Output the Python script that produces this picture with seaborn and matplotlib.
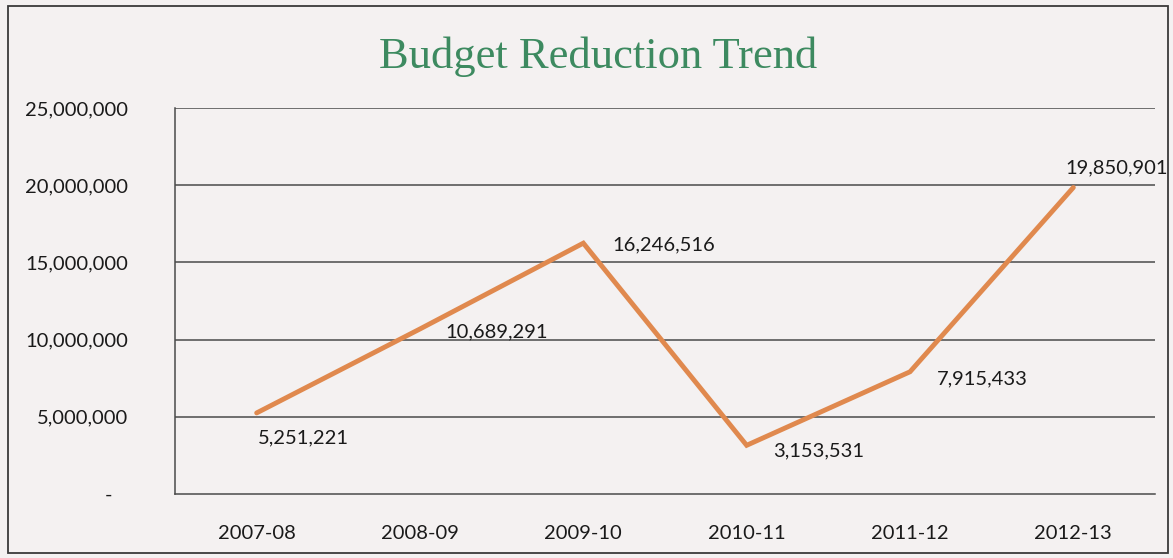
import matplotlib
matplotlib.use("Agg")
import matplotlib.pyplot as plt
import matplotlib.patches as mpatches
import seaborn as sns
import pandas as pd
from matplotlib.ticker import FuncFormatter

# Annual budget reductions by fiscal year
years = ["2007-08", "2008-09", "2009-10", "2010-11", "2011-12", "2012-13"]
reductions = [5251221, 10689291, 16246516, 3153531, 7915433, 19850901]
y_ticks = [0, 5000000, 10000000, 15000000, 20000000, 25000000]

# Label placement (pixel offsets from each point)
label_offsets = [(1, -25), (25, -3), (29, -2), (26, -6), (27, -7), (43, 20)]

df = pd.DataFrame({"year": years, "reduction": reductions})

sns.set_theme(style="white")
plt.rcParams["font.family"] = ["Lato", "DejaVu Sans"]

bg = "#f4f1f1"
fig = plt.figure(figsize=(11.73, 5.58), dpi=100, facecolor=bg)
ax = fig.add_axes([175 / 1173, 1 - 494 / 558, (1155 - 175) / 1173, (494 - 108) / 558])
ax.set_facecolor(bg)

df["pos"] = range(len(years))
sns.lineplot(data=df, x="pos", y="reduction", ax=ax, color="#e0894e",
             linewidth=3.5, solid_joinstyle="miter", sort=False)

ax.set_xlim(-0.5, len(years) - 0.5)
ax.set_ylim(y_ticks[0], y_ticks[-1])
ax.set_xticks(range(len(years)))
ax.set_xticklabels(years)
ax.set_yticks(y_ticks)
ax.yaxis.set_major_formatter(FuncFormatter(lambda v, _: "-   " if v == 0 else f"{int(v):,}"))
ax.tick_params(axis="both", length=0, labelsize=14.5, colors="#1a1a1a")
ax.tick_params(axis="x", pad=22)
ax.tick_params(axis="y", pad=34)
for lbl in ax.get_yticklabels():
    lbl.set_horizontalalignment("right")

for v in y_ticks[1:]:
    ax.axhline(v, color="#4a4a4a", linewidth=1.1, zorder=0)
for side in ["top", "right"]:
    ax.spines[side].set_visible(False)
ax.spines["left"].set_color("#4a4a4a")
ax.spines["bottom"].set_color("#4a4a4a")
ax.spines["left"].set_linewidth(1.1)
ax.spines["bottom"].set_linewidth(1.1)
ax.set_xlabel("")
ax.set_ylabel("")

for i, (v, off) in enumerate(zip(reductions, label_offsets)):
    ha = "left"
    if off[1] > 10:
        ha = "center"
    ax.annotate(f"{v:,}", (i, v), xytext=off, textcoords="offset pixels",
                ha=ha, va="center", fontsize=14.5, color="#1a1a1a",
                annotation_clip=False)

fig.text(598 / 1173, 1 - 57 / 558, "Budget Reduction Trend", ha="center", va="center",
         fontsize=32, color="#3d8a60", family=["Liberation Serif", "DejaVu Serif"])

# Chart frame
fig.patches.append(mpatches.Rectangle((8 / 1173, 5 / 558), 1160 / 1173, 547 / 558,
                                      transform=fig.transFigure, fill=False,
                                      edgecolor="#3a3a3a", linewidth=1.3))

fig.savefig("out.png", dpi=100, facecolor=bg)
